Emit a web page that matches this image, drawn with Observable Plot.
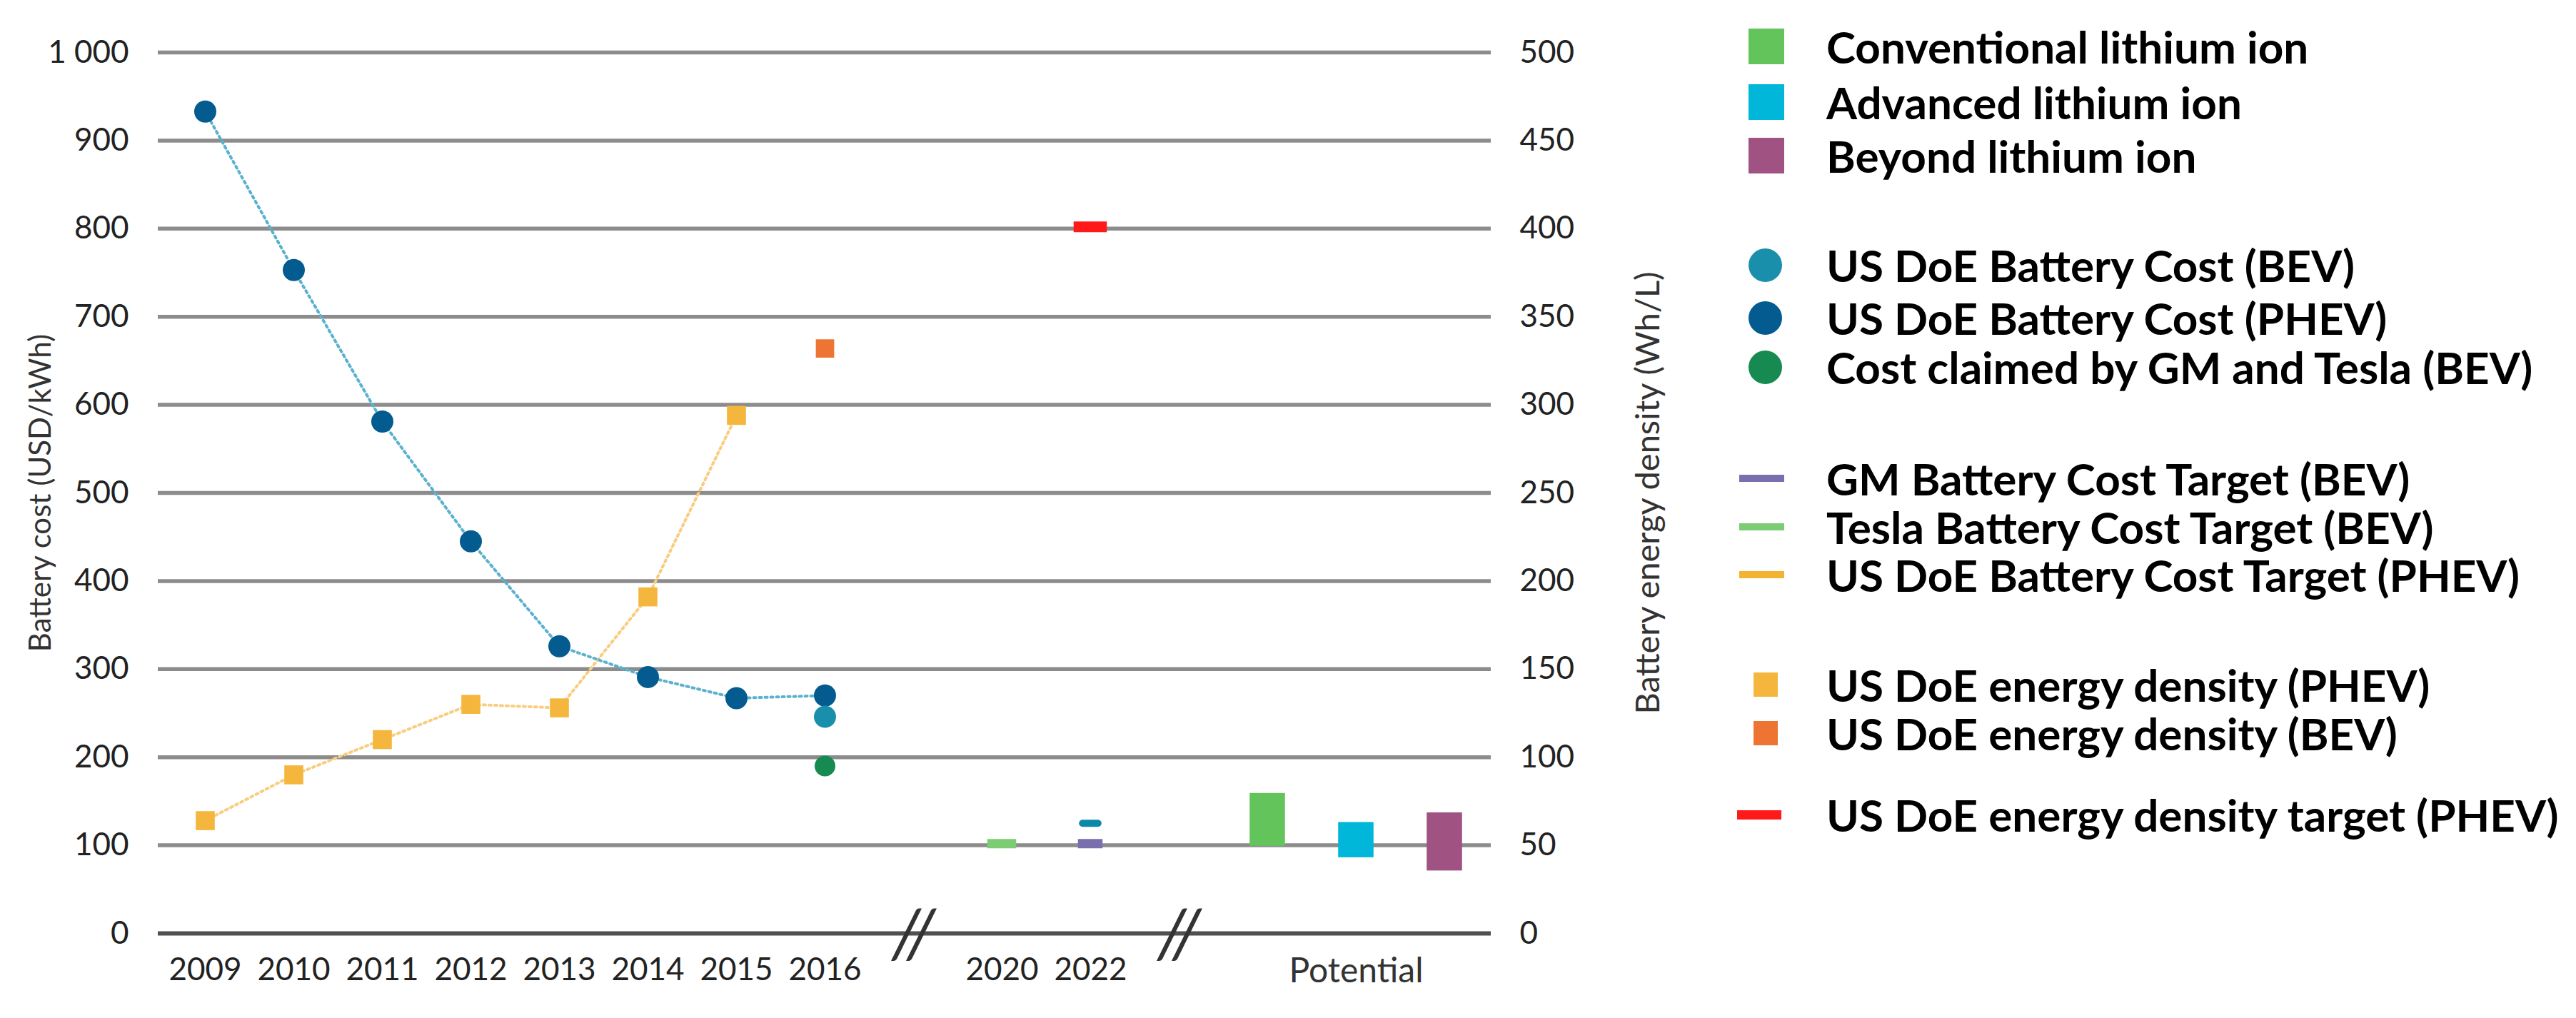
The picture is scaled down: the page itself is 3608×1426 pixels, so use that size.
<!DOCTYPE html>
<html><head><meta charset="utf-8">
<script src="https://cdn.jsdelivr.net/npm/d3@7"></script>
<script src="https://cdn.jsdelivr.net/npm/@observablehq/plot@0.6"></script>
<style>
html,body{margin:0;padding:0;background:#fff;}
#wrap{position:relative;width:3608px;height:1426px;overflow:hidden;background:#fff;}
#chart{position:absolute;left:0;top:0;}
#legend{position:absolute;left:2433px;top:0;width:1175px;height:1426px;font-family:Lato,"Noto Sans",sans-serif;font-weight:700;font-size:62px;color:#000;}
.row{position:absolute;left:0;height:72px;width:1175px;white-space:nowrap;}
.sym{position:absolute;}
.lab{position:absolute;left:125px;top:0;line-height:72px;}
</style></head><body>
<div id="wrap"><div id="chart"></div><div id="legend"></div></div>
<script>
// ---- data ----
const slots = ["2009","2010","2011","2012","2013","2014","2015","2016","break1","2020","2022","break2","pot1","pot2","pot3"];
const yearTicks = ["2009","2010","2011","2012","2013","2014","2015","2016","2020","2022"];
const potentialTick = ["pot2"];
const breakSlots = ["break1","break2"];
const yTicks = [0,100,200,300,400,500,600,700,800,900,1000];

const costYears = ["2009","2010","2011","2012","2013","2014","2015","2016"];
const phevCost = [933,753,581,445,326,291,267,270];          // USD/kWh
const bevCost = [{slot:"2016", v:246}];                        // USD/kWh
const claimedCost = [{slot:"2016", v:190}];                    // USD/kWh

const densityYears = ["2009","2010","2011","2012","2013","2014","2015"];
const phevDensity = [64,90,110,130,128,191,294];              // Wh/L
const bevDensity = [{slot:"2016", v:332}];                     // Wh/L
const densityTarget = [{slot:"2022", v:401}];                  // Wh/L

const teslaTarget = [{slot:"2020", v:102}];                    // USD/kWh
const gmTarget = [{slot:"2022", v:102}];                       // USD/kWh
const doeTarget = [{slot:"2022", v:125}];                      // USD/kWh

const potentialSlots = ["pot1","pot2","pot3"];
const potentialNames = ["Conventional lithium ion","Advanced lithium ion","Beyond lithium ion"];
const potentialLow = [99,86,71];
const potentialHigh = [159,126,137];

const legendLabels = [
  "Conventional lithium ion","Advanced lithium ion","Beyond lithium ion",
  "US DoE Battery Cost (BEV)","US DoE Battery Cost (PHEV)","Cost claimed by GM and Tesla (BEV)",
  "GM Battery Cost Target (BEV)","Tesla Battery Cost Target (BEV)","US DoE Battery Cost Target (PHEV)",
  "US DoE energy density (PHEV)","US DoE energy density (BEV)",
  "US DoE energy density target (PHEV)"
];
const legendShapes = ["square","square","square","circle","circle","circle","line","line","line","small","small","thick"];

// ---- styles ----
const C = {
  conv:"#64c45c", adv:"#00b6d9", beyond:"#a05282",
  bev:"#1a8fac", phev:"#035b8f", claimed:"#168a50",
  gm:"#7a6fae", tesla:"#7ccc74", doeT:"#f2b331", doeT22:"#0b88a8",
  denP:"#f4b63c", denB:"#ee7433", denT:"#ff1a1a",
  costLine:"#5ab2ce", denLine:"#f9cd80", grid:"#8c8c8c", base:"#505050"
};
const legendColors = [C.conv,C.adv,C.beyond,C.bev,C.phev,C.claimed,C.gm,C.tesla,C.doeT,C.denP,C.denB,C.denT];
const legendRowCenters = [65,143,218,371,445,514,670,738,805,959,1027,1141];
const potentialColors = [C.conv,C.adv,C.beyond];

const costData = costYears.map((s,i) => ({slot:s, v:phevCost[i]}));
const densityData = densityYears.map((s,i) => ({slot:s, v:phevDensity[i]}));
const potentialData = potentialSlots.map((s,i) => ({slot:s, name:potentialNames[i], lo:potentialLow[i], hi:potentialHigh[i], color:potentialColors[i]}));

const W = 2430, BW = (W - 221 - 342) / slots.length;
const inset = w => (BW - w) / 2;
const font = "Lato, 'Noto Sans', sans-serif";

const chart = Plot.plot({
  width: W, height: 1426,
  marginLeft: 221, marginRight: 342, marginTop: 73, marginBottom: 119,
  style: {fontFamily: font, background: "#fff", color: "#222", overflow: "visible"},
  x: {type: "band", domain: slots, padding: 0},
  y: {domain: [0, 1000]},
  marks: [
    Plot.ruleY(yTicks.filter(d => d > 0), {stroke: C.grid, strokeWidth: 5.5}),
    Plot.ruleY([0], {stroke: C.base, strokeWidth: 6}),
    Plot.text(breakSlots, {x: d => d, y: () => 0, text: () => "//", fontSize: 96, fontStyle: "italic", fill: "#333", dy: 4}),
    Plot.axisY(yTicks, {anchor: "left", tickSize: 0, tickPadding: 41, fontSize: 44, fill: "#222", label: null,
      tickFormat: d => d === 1000 ? "1 000" : String(d)}),
    Plot.axisY(yTicks, {anchor: "right", tickSize: 0, tickPadding: 40, fontSize: 44, fill: "#222", label: null,
      tickFormat: d => String(d / 2)}),
    Plot.axisX(yearTicks, {anchor: "bottom", tickSize: 0, tickPadding: 34, fontSize: 44, fill: "#222", label: null}),
    Plot.axisX(potentialTick, {anchor: "bottom", tickSize: 0, tickPadding: 34, fontSize: 48, fill: "#333", label: null,
      tickFormat: () => "Potential"}),
    Plot.text(["Battery cost (USD/kWh)"], {frameAnchor: "left", textAnchor: "middle", dx: -164, rotate: -90, text: d => d, fontSize: 42, fill: "#333"}),
    Plot.text(["Battery energy density (Wh/L)"], {frameAnchor: "right", textAnchor: "middle", dx: 220, rotate: -90, text: d => d, fontSize: 47, fill: "#333"}),
    // potential ranges
    Plot.barY(potentialData, {x: "slot", y1: "lo", y2: "hi", fill: "color", insetLeft: inset(50), insetRight: inset(50)}),
    // targets
    Plot.tickY(teslaTarget, {x: "slot", y: "v", stroke: C.tesla, strokeWidth: 13, insetLeft: inset(41), insetRight: inset(41)}),
    Plot.tickY(gmTarget, {x: "slot", y: "v", stroke: C.gm, strokeWidth: 13, insetLeft: inset(35), insetRight: inset(35)}),
    Plot.tickY(doeTarget, {x: "slot", y: "v", stroke: C.doeT22, strokeWidth: 10, strokeLinecap: "round", insetLeft: inset(22), insetRight: inset(22)}),
    Plot.tickY(densityTarget, {x: "slot", y: d => d.v * 2, stroke: C.denT, strokeWidth: 15, insetLeft: inset(47), insetRight: inset(47)}),
    // lines
    Plot.line(densityData, {x: "slot", y: d => d.v * 2, stroke: C.denLine, strokeWidth: 4, strokeDasharray: "3,5"}),
    Plot.line(costData, {x: "slot", y: "v", stroke: C.costLine, strokeWidth: 4, strokeDasharray: "3,5"}),
    // markers
    Plot.dot(densityData, {x: "slot", y: d => d.v * 2, symbol: "square", r: 15, fill: C.denP}),
    Plot.dot(bevDensity, {x: "slot", y: d => d.v * 2, symbol: "square", r: 14.5, fill: C.denB}),
    Plot.dot(costData, {x: "slot", y: "v", r: 15.5, fill: C.phev}),
    Plot.dot(bevCost, {x: "slot", y: "v", r: 15.5, fill: C.bev}),
    Plot.dot(claimedCost, {x: "slot", y: "v", r: 14.5, fill: C.claimed})
  ]
});
document.getElementById("chart").appendChild(chart);

// ---- legend ----
const symStyle = {
  square: {left: 16, w: 50, h: 50, radius: 0},
  circle: {left: 16, w: 47, h: 47, radius: 24},
  line:   {left: 3,  w: 63, h: 10, radius: 0},
  small:  {left: 23, w: 34, h: 34, radius: 0},
  thick:  {left: 0,  w: 62, h: 13, radius: 0}
};
const legend = d3.select("#legend");
legendLabels.forEach((label, i) => {
  const row = legend.append("div").attr("class", "row").style("top", (legendRowCenters[i] - 36) + "px");
  const s = symStyle[legendShapes[i]];
  row.append("div").attr("class", "sym")
    .style("left", s.left + "px").style("top", (36 - s.h / 2) + "px")
    .style("width", s.w + "px").style("height", s.h + "px")
    .style("border-radius", s.radius ? "50%" : "0")
    .style("background", legendColors[i]);
  row.append("div").attr("class", "lab").text(label);
});
</script>
</body></html>
